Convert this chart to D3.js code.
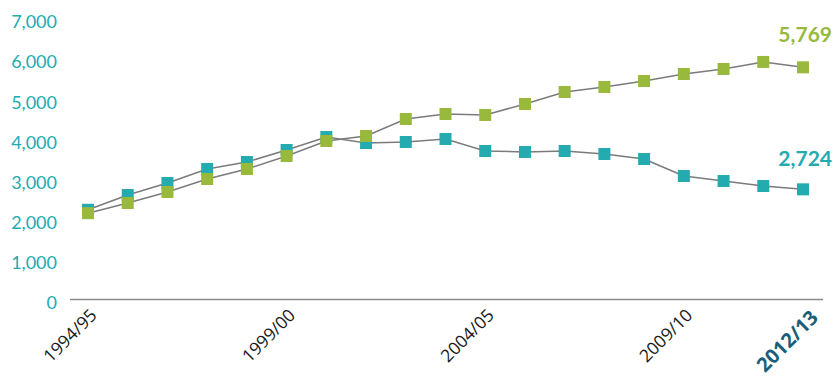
<!DOCTYPE html>
<html><head><meta charset="utf-8">
<script src="https://cdn.jsdelivr.net/npm/d3@7/dist/d3.min.js"></script>
<style>body{margin:0;background:#fff;}svg{display:block;}</style>
</head><body>
<svg id="c" width="833" height="377"></svg>
<script>
const categories = ["1994/95","1995/96","1996/97","1997/98","1998/99","1999/00","2000/01","2001/02","2002/03","2003/04","2004/05","2005/06","2006/07","2007/08","2008/09","2009/10","2010/11","2011/12","2012/13"];
const tealValues = [2214,2583,2883,3232,3406,3706,4030,3880,3906,3980,3681,3656,3681,3606,3481,3057,2932,2807,2724];
const greenValues = [2129,2383,2658,2982,3232,3556,3931,4055,4480,4605,4580,4854,5154,5278,5428,5603,5728,5903,5769];
const yTicks = [0,1000,2000,3000,4000,5000,6000,7000];
const xTickLabels = ["1994/95","1999/00","2004/05","2009/10","2012/13"];

const TEAL = "#24abb0", GREEN = "#98b93b", LINE = "#7b7b7b", DARK = "#1b5e7a";
const svg = d3.select("#c");
const x = d3.scalePoint().domain(categories).range([88, 803]);
const y = d3.scaleLinear().domain([0, 7000]).range([298.5, 18]);
const fmt = d3.format(",");

// Y axis labels
const yAxis = d3.axisLeft(y).tickValues(yTicks).tickFormat(fmt).tickSize(0).tickPadding(0);
const yg = svg.append("g").attr("transform", "translate(57,0)").call(yAxis);
yg.select(".domain").remove();
yg.selectAll("text").attr("fill", TEAL).attr("font-family", "Lato, sans-serif")
  .attr("font-size", 18).attr("dy", "0.55em");

// baseline axis
svg.append("line").attr("x1", 70).attr("x2", 823).attr("y1", y(0) + 1).attr("y2", y(0) + 1)
  .attr("stroke", "#8a8a8a").attr("stroke-width", 1.5);

// X labels
const xAxis = d3.axisBottom(x).tickValues(xTickLabels).tickSize(0).tickPadding(0);
const xg = svg.append("g").attr("transform", "translate(0,312)").call(xAxis);
xg.select(".domain").remove();
xg.selectAll("text")
  .attr("font-family", "'Open Sans', sans-serif")
  .attr("font-size", d => d === "2012/13" ? 20 : 17.5)
  .attr("font-weight", d => d === "2012/13" ? "bold" : "normal")
  .attr("fill", d => d === "2012/13" ? DARK : "#1a1a1a")
  .attr("text-anchor", "end")
  .attr("dy", "0.35em")
  .attr("transform", d => d === "2012/13" ? "translate(11,2) rotate(-45)" : "translate(5,0) rotate(-45)");

const line = d3.line().x((d, i) => x(categories[i])).y(d => y(d));
svg.append("path").datum(tealValues).attr("d", line).attr("fill", "none").attr("stroke", LINE).attr("stroke-width", 1.5);
svg.append("path").datum(greenValues).attr("d", line).attr("fill", "none").attr("stroke", LINE).attr("stroke-width", 1.5);

const S = 12;
svg.append("g").selectAll("rect").data(tealValues).join("rect")
  .attr("x", (d, i) => x(categories[i]) - S / 2).attr("y", d => y(d) - S / 2)
  .attr("width", S).attr("height", S).attr("fill", TEAL);
svg.append("g").selectAll("rect").data(greenValues).join("rect")
  .attr("x", (d, i) => x(categories[i]) - S / 2).attr("y", d => y(d) - S / 2)
  .attr("width", S).attr("height", S).attr("fill", GREEN);

// End labels
const last = categories.length - 1;
svg.append("text").attr("x", 832).attr("y", y(greenValues[last]) - 25)
  .attr("text-anchor", "end").attr("font-family", "Lato, sans-serif").attr("font-weight", "bold")
  .attr("font-size", 21).attr("fill", GREEN).text(fmt(greenValues[last]));
svg.append("text").attr("x", 832).attr("y", y(tealValues[last]) - 23)
  .attr("text-anchor", "end").attr("font-family", "Lato, sans-serif").attr("font-weight", "bold")
  .attr("font-size", 21).attr("fill", TEAL).text(fmt(tealValues[last]));
</script>
</body></html>
